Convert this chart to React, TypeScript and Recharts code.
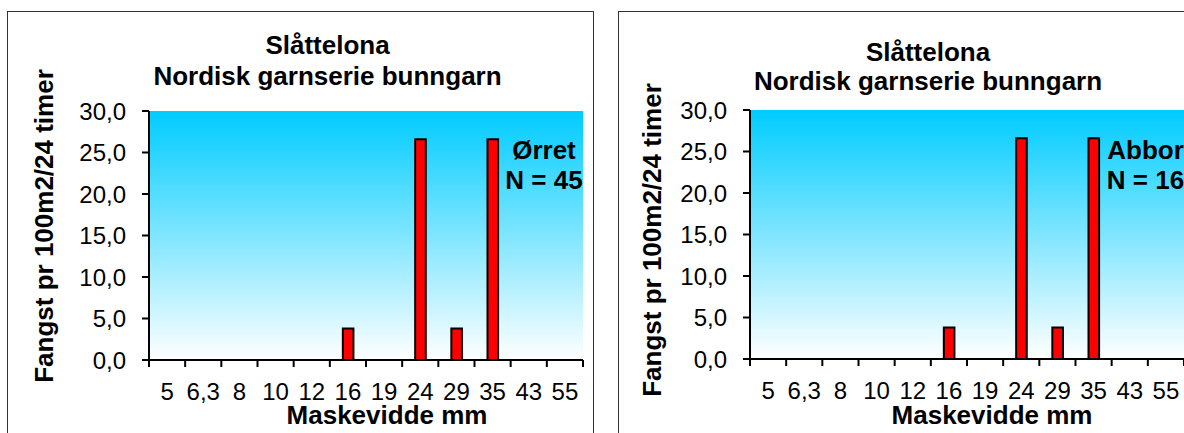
import React from 'react';
import { BarChart, Bar, XAxis, YAxis, CartesianGrid } from 'recharts';

// ---- data ----
const meshSizes = ['5', '6,3', '8', '10', '12', '16', '19', '24', '29', '35', '43', '55'];
const orretCatch = [0, 0, 0, 0, 0, 3.8, 0, 26.6, 3.8, 26.6, 0, 0];
const abborCatch = [0, 0, 0, 0, 0, 3.8, 0, 26.6, 3.8, 26.6, 0, 0];
const yTicks = [0, 5, 10, 15, 20, 25, 30];
const lakeName = 'Slåttelona';
const gearName = 'Nordisk garnserie bunngarn';
const yTitle = 'Fangst pr 100m2/24 timer';
const xTitle = 'Maskevidde mm';
const speciesNames = ['Ørret', 'Abbor'];
const speciesCounts = [45, 16];

const FONT = '"Liberation Sans", Arial, Helvetica, sans-serif';
const X_TICK_SIZE = 7;
const X_TICK_MARGIN = 16;

const fmt = (v: number) => v.toFixed(1).replace('.', ',');

function XTick(props: any) {
  const { x, y, payload, index, visibleTicksCount } = props;
  const axisY = y - X_TICK_SIZE - X_TICK_MARGIN;
  const half = payload && payload.offset != null ? payload.offset : 18;
  const xs = [x - half];
  if (index === visibleTicksCount - 1) xs.push(x + half);
  return (
    <g>
      {xs.map((lx: number, i: number) => (
        <line key={i} x1={lx} x2={lx} y1={axisY} y2={axisY + X_TICK_SIZE} stroke="#000" strokeWidth={2} />
      ))}
      <text x={x} y={y} dy="0.71em" textAnchor="middle" fontSize={24} fontFamily={FONT} fill="#000">
        {payload.value}
      </text>
    </g>
  );
}

function Panel(props: { values: number[]; gradId: string; width: number; height: number; top: number; right: number }) {
  const data = meshSizes.map((m, i) => ({ mesh: m, value: props.values[i] }));
  return (
    <BarChart
      width={props.width}
      height={props.height}
      data={data}
      margin={{ top: props.top, right: props.right, bottom: 0, left: 0 }}
      barCategoryGap={0}
    >
      <defs>
        <linearGradient id={props.gradId} x1="0" y1="0" x2="0" y2="1">
          <stop offset="0%" stopColor="#00CCFF" />
          <stop offset="100%" stopColor="#FFFFFF" />
        </linearGradient>
      </defs>
      <CartesianGrid horizontal={false} vertical={false} fill={`url(#${props.gradId})`} stroke="none" />
      <XAxis
        dataKey="mesh"
        height={73}
        interval={0}
        tickLine={false}
        tickSize={X_TICK_SIZE}
        tickMargin={X_TICK_MARGIN}
        axisLine={{ stroke: '#000', strokeWidth: 2 }}
        tick={<XTick />}
      />
      <YAxis
        width={149}
        domain={[0, 30]}
        ticks={yTicks}
        interval={0}
        tickFormatter={fmt}
        tickSize={7}
        tickMargin={16}
        axisLine={{ stroke: '#000', strokeWidth: 2 }}
        tickLine={{ stroke: '#000', strokeWidth: 2 }}
        tick={{ fontSize: 24, fill: '#000', fontFamily: FONT }}
      />
      <Bar dataKey="value" fill="#FF0000" stroke="#000" strokeWidth={2} barSize={10.6} isAnimationActive={false} />
    </BarChart>
  );
}

export default function App() {
  const bold = { fontFamily: FONT, fontWeight: 700, fontSize: 26, fill: '#000' } as any;
  return (
    <div style={{ position: 'absolute', left: 0, top: 0, width: 1184, height: 433, overflow: 'hidden', background: '#fff' }}>
      <div style={{ position: 'absolute', left: 0, top: 0 }}>
        <Panel values={orretCatch} gradId="bgLeft" width={600} height={433} top={111} right={17} />
      </div>
      <div style={{ position: 'absolute', left: 601, top: 0 }}>
        <Panel values={abborCatch} gradId="bgRight" width={583} height={432} top={110} right={0} />
      </div>
      <svg width={1184} height={433} style={{ position: 'absolute', left: 0, top: 0, pointerEvents: 'none' }}>
        <rect x={7.5} y={11.5} width={586} height={440} fill="none" stroke="#333" strokeWidth={1} />
        <rect x={618.5} y={11.5} width={600} height={440} fill="none" stroke="#333" strokeWidth={1} />

        <text x={327.5} y={54} textAnchor="middle" {...bold}>{lakeName}</text>
        <text x={327.5} y={85} textAnchor="middle" {...bold}>{gearName}</text>
        <text x={928} y={60.5} textAnchor="middle" {...bold}>{lakeName}</text>
        <text x={928} y={89.5} textAnchor="middle" {...bold}>{gearName}</text>

        <text transform="translate(53,226) rotate(-90)" textAnchor="middle" {...bold}>{yTitle}</text>
        <text transform="translate(661,240) rotate(-90)" textAnchor="middle" {...bold}>{yTitle}</text>

        <text x={387} y={424} textAnchor="middle" {...bold}>{xTitle}</text>
        <text x={992} y={424} textAnchor="middle" {...bold}>{xTitle}</text>

        <text x={544} y={158.6} textAnchor="middle" {...bold}>{speciesNames[0]}</text>
        <text x={544} y={188.6} textAnchor="middle" {...bold}>{`N = ${speciesCounts[0]}`}</text>
        <text x={1145.5} y={159.3} textAnchor="middle" {...bold}>{speciesNames[1]}</text>
        <text x={1145.5} y={188.6} textAnchor="middle" {...bold}>{`N = ${speciesCounts[1]}`}</text>
      </svg>
    </div>
  );
}
